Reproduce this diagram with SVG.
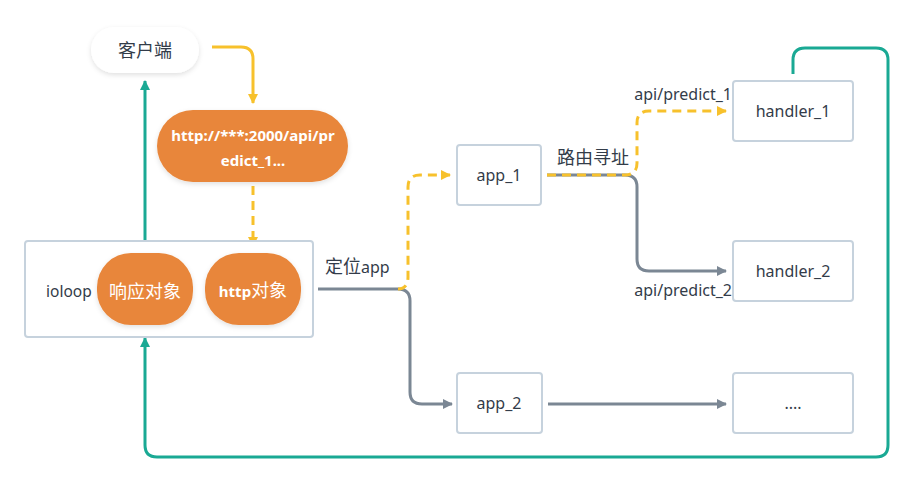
<svg xmlns="http://www.w3.org/2000/svg" width="918" height="486" viewBox="0 0 918 486">
<style>
.box{fill:#fff;stroke:#c6d2dd;stroke-width:2}
.blob{fill:#e8863a}
.t{font-family:"Noto Sans","Noto Sans CJK SC",sans-serif;font-size:16px;fill:#333c49}
.w{font-family:"Noto Sans","Noto Sans CJK SC",sans-serif;font-size:15px;fill:#fff;font-weight:bold}
.c{font-size:18px}
.gray{fill:none;stroke:#7b8794;stroke-width:3}
.yel{fill:none;stroke:#f7c12c;stroke-width:3}
.dash{stroke-dasharray:9 6}
.teal{fill:none;stroke:#1aa994;stroke-width:3}
</style>
<defs>
<filter id="sh" x="-20%" y="-20%" width="140%" height="150%">
<feDropShadow dx="0" dy="2" stdDeviation="2.5" flood-color="#000" flood-opacity="0.12"/>
</filter>
<marker id="ag" viewBox="0 0 10 10" refX="9" refY="5" markerWidth="10" markerHeight="10" markerUnits="userSpaceOnUse" orient="auto"><path d="M0,0L10,5L0,10z" fill="#7b8794"/></marker>
<marker id="ay" viewBox="0 0 10 10" refX="9" refY="5" markerWidth="10" markerHeight="10" markerUnits="userSpaceOnUse" orient="auto"><path d="M0,0L10,5L0,10z" fill="#f7c12c"/></marker>
<marker id="at" viewBox="0 0 10 10" refX="9" refY="5" markerWidth="10" markerHeight="10" markerUnits="userSpaceOnUse" orient="auto"><path d="M0,0L10,5L0,10z" fill="#1aa994"/></marker>
</defs>
<rect width="918" height="486" fill="#fff"/>
<g id="connectors">
<path class="yel" d="M212,47H241Q253,47 253,59V103" marker-end="url(#ay)"/>
<path class="yel dash" d="M253,186V246" marker-end="url(#ay)"/>
<path class="teal" d="M145,240V81" marker-end="url(#at)"/>
<path class="teal" d="M793,74V60Q793,48 805,48H876Q888,48 888,60V445Q888,457 876,457H157Q145,457 145,445V338" marker-end="url(#at)"/>
<path class="gray" d="M318,289H398Q410,289 410,301V392Q410,404 422,404H452" marker-end="url(#ag)"/>
<path class="yel dash" d="M398,289Q408,289 408,277V187Q408,175 420,175H450" marker-end="url(#ay)"/>
<path class="gray" d="M547,175H625Q637,175 637,187V259Q637,271 649,271H726" marker-end="url(#ag)"/>
<path class="yel dash" d="M547,175H625Q637,175 637,163V123Q637,111 649,111H726" marker-end="url(#ay)"/>
<path class="gray" d="M548,404H726" marker-end="url(#ag)"/>
<text class="t" x="325" y="273"><tspan class="c">定位</tspan>app</text>
<text class="t c" x="557" y="164">路由寻址</text>
<text class="t" x="732" y="100" text-anchor="end">api/predict_1</text>
<text class="t" x="732" y="296" text-anchor="end">api/predict_2</text>
</g>
<g id="client">
<rect x="91" y="27" width="108" height="46" rx="23" fill="#fff" filter="url(#sh)"/>
<text class="t c" x="145" y="57" text-anchor="middle">客户端</text>
</g>
<g id="url">
<rect class="blob" x="157" y="110" width="191" height="72" rx="36" filter="url(#sh)"/>
<text class="w" x="253" y="141" text-anchor="middle">http://***:2000/api/pr</text>
<text class="w" x="253" y="166" text-anchor="middle">edict_1...</text>
</g>
<g id="ioloop">
<rect class="box" x="25" y="241" width="288" height="96" rx="3"/>
<text class="t" x="46" y="297" style="font-size:15.5px">ioloop</text>
</g>
<g id="resp">
<rect class="blob" x="97" y="253" width="96" height="72" rx="34" ry="34" filter="url(#sh)"/>
<text class="w c" x="145" y="298" text-anchor="middle" style="font-weight:normal">响应对象</text>
</g>
<g id="httpobj">
<rect class="blob" x="205" y="253" width="96" height="72" rx="34" ry="34" filter="url(#sh)"/>
<text class="w" x="253" y="297" text-anchor="middle">http<tspan class="c" style="font-weight:normal">对象</tspan></text>
</g>
<g id="app1">
<rect class="box" x="457" y="145" width="84" height="60" rx="3"/>
<text class="t" x="499" y="181" text-anchor="middle">app_1</text>
</g>
<g id="app2">
<rect class="box" x="457" y="373" width="85" height="60" rx="3"/>
<text class="t" x="499" y="409" text-anchor="middle">app_2</text>
</g>
<g id="handler1">
<rect class="box" x="733" y="81" width="120" height="60" rx="3"/>
<text class="t" x="793" y="117" text-anchor="middle">handler_1</text>
</g>
<g id="handler2">
<rect class="box" x="733" y="241" width="120" height="60" rx="3"/>
<text class="t" x="793" y="277" text-anchor="middle">handler_2</text>
</g>
<g id="more">
<rect class="box" x="733" y="373" width="120" height="60" rx="3"/>
<text class="t" x="793" y="409" text-anchor="middle">....</text>
</g>
</svg>
